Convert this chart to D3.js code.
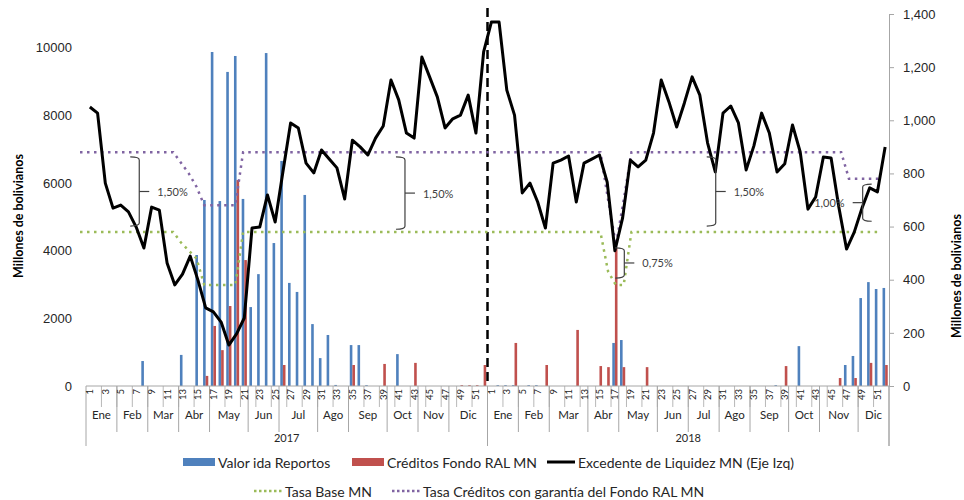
<!DOCTYPE html>
<html>
<head>
<meta charset="utf-8">
<script src="https://cdn.jsdelivr.net/npm/d3@7"></script>
<style>
  body { margin: 0; background: #fff; }
  svg { display: block; font-family: Lato, "Open Sans", "Liberation Sans", sans-serif; }
</style>
</head>
<body>
<svg id="chart" width="964" height="500"></svg>
<script>
// ---- Category axis labels ----
const years = ["2017", "2018"];
const monthNames = ["Ene", "Feb", "Mar", "Abr", "May", "Jun", "Jul", "Ago", "Sep", "Oct", "Nov", "Dic"];
const monthWeeks2017 = [4, 4, 4, 4, 5, 4, 5, 4, 5, 4, 4, 5];
const monthWeeks2018 = [4, 4, 5, 4, 5, 4, 4, 4, 5, 4, 5, 4];
const weekLabels = [1, 2, 3, 4, 5, 6, 7, 8, 9, 10, 11, 12, 13, 14, 15, 16, 17, 18, 19, 20,
  21, 22, 23, 24, 25, 26, 27, 28, 29, 30, 31, 32, 33, 34, 35, 36, 37, 38, 39, 40,
  41, 42, 43, 44, 45, 46, 47, 48, 49, 50, 51, 52];

// ---- Excedente de Liquidez MN (millones de Bs, eje izquierdo) ----
const excedente2017 = [8250, 8070, 6000, 5260, 5350, 5150, 4700, 4080, 5290, 5200,
  3640, 2990, 3310, 3840, 3130, 2310, 2190, 1890, 1210, 1540,
  2010, 4670, 4700, 5650, 4850, 6330, 7780, 7630, 6590, 6300,
  6980, 6710, 6450, 5530, 7270, 7070, 6830, 7330, 7690, 9050,
  8460, 7480, 7330, 9730, 9140, 8550, 7630, 7900, 8010, 8600,
  7480, 9880];
const excedente2018 = [10760, 10760, 8750, 8010, 5710, 6000, 5440, 4670, 6590, 6680,
  6800, 5440, 6590, 6710, 6830, 6030, 4000, 4970, 6680, 6480,
  6680, 7480, 9050, 8400, 7660, 8370, 9140, 8600, 7190, 6330,
  8070, 8280, 7780, 6390, 7100, 8070, 7480, 6330, 6570, 7720,
  6920, 5230, 5590, 6770, 6740, 5290, 4050, 4550, 5260, 5860,
  5740, 7070];

// ---- Valor ida Reportos (eje derecho) ----
const reportos2017 = [0, 0, 0, 0, 0, 0, 0, 94, 0, 0,
  0, 0, 117, 0, 493, 700, 1257, 696, 1182, 1242,
  704, 297, 421, 1253, 538, 847, 388, 354, 719, 233,
  105, 192, 4, 0, 154, 154, 3, 0, 0, 0,
  120, 0, 0, 0, 0, 0, 0, 0, 0, 0,
  0, 0];
const reportos2018 = [0, 3, 3, 3, 0, 3, 3, 0, 0, 0,
  0, 0, 0, 0, 0, 0, 162, 173, 0, 0,
  0, 0, 0, 0, 0, 0, 0, 0, 0, 0,
  0, 0, 0, 0, 0, 0, 0, 3, 0, 0,
  150, 0, 0, 0, 0, 0, 79, 113, 331, 391,
  365, 369];

// ---- Créditos Fondo RAL MN (eje derecho) ----
const creditos2017 = [0, 0, 0, 0, 0, 0, 0, 0, 0, 0,
  0, 0, 0, 0, 0, 38, 226, 135, 301, 775,
  474, 0, 0, 0, 0, 79, 0, 0, 0, 0,
  0, 0, 0, 0, 79, 0, 0, 0, 83, 0,
  0, 0, 87, 0, 0, 0, 0, 0, 3, 3,
  3, 79];
const creditos2018 = [0, 0, 0, 162, 0, 0, 0, 79, 0, 0,
  0, 211, 0, 0, 75, 71, 520, 71, 0, 0,
  71, 0, 0, 0, 0, 0, 0, 0, 0, 0,
  0, 0, 0, 0, 0, 0, 0, 0, 75, 0,
  0, 0, 0, 0, 0, 30, 0, 30, 0, 87,
  0, 79];

// ---- Tasas (%) ----
const tasaBase2017 = [2.9, 2.9, 2.9, 2.9, 2.9, 2.9, 2.9, 2.9, 2.9, 2.9,
  2.9, 2.9, 2.9, 2.7, 2.55, 2.4, 1.9, 1.9, 1.9, 1.9,
  1.9, 2.9, 2.9, 2.9, 2.9, 2.9, 2.9, 2.9, 2.9, 2.9,
  2.9, 2.9, 2.9, 2.9, 2.9, 2.9, 2.9, 2.9, 2.9, 2.9,
  2.9, 2.9, 2.9, 2.9, 2.9, 2.9, 2.9, 2.9, 2.9, 2.9,
  2.9, 2.9];
const tasaBase2018 = [2.9, 2.9, 2.9, 2.9, 2.9, 2.9, 2.9, 2.9, 2.9, 2.9,
  2.9, 2.9, 2.9, 2.9, 2.9, 2.9, 2.15, 1.9, 1.9, 2.9,
  2.9, 2.9, 2.9, 2.9, 2.9, 2.9, 2.9, 2.9, 2.9, 2.9,
  2.9, 2.9, 2.9, 2.9, 2.9, 2.9, 2.9, 2.9, 2.9, 2.9,
  2.9, 2.9, 2.9, 2.9, 2.9, 2.9, 2.9, 2.9, 2.9, 2.9,
  2.9, 2.9];
const tasaRal2017 = [4.4, 4.4, 4.4, 4.4, 4.4, 4.4, 4.4, 4.4, 4.4, 4.4,
  4.4, 4.4, 4.4, 4.2, 4.0, 3.75, 3.4, 3.4, 3.4, 3.4,
  3.4, 4.4, 4.4, 4.4, 4.4, 4.4, 4.4, 4.4, 4.4, 4.4,
  4.4, 4.4, 4.4, 4.4, 4.4, 4.4, 4.4, 4.4, 4.4, 4.4,
  4.4, 4.4, 4.4, 4.4, 4.4, 4.4, 4.4, 4.4, 4.4, 4.4,
  4.4, 4.4];
const tasaRal2018 = [4.4, 4.4, 4.4, 4.4, 4.4, 4.4, 4.4, 4.4, 4.4, 4.4,
  4.4, 4.4, 4.4, 4.4, 4.4, 4.4, 3.5, 2.65, 3.5, 4.4,
  4.4, 4.4, 4.4, 4.4, 4.4, 4.4, 4.4, 4.4, 4.4, 4.4,
  4.4, 4.4, 4.4, 4.4, 4.4, 4.4, 4.4, 4.4, 4.4, 4.4,
  4.4, 4.4, 4.4, 4.4, 4.4, 4.4, 4.4, 3.9, 3.9, 3.9,
  3.9, 3.9];

// ---- Axis ticks ----
const leftTicks = [0, 2000, 4000, 6000, 8000, 10000];
const rightTicks = [0, 200, 400, 600, 800, 1000, 1200, 1400];

// ---- Spread annotations between the two rates ----
const spreads = [
  { at: 7.63, top: 4.31, bottom: 3.01, label: "1,50%", side: "right" },
  { at: 41.84, top: 4.31, bottom: 2.95, label: "1,50%", side: "right" },
  { at: 81.85, top: 4.31, bottom: 3.01, label: "1,50%", side: "right" },
  { at: 70.08, top: 2.60, bottom: 2.03, label: "0,75%", side: "right" },
  { at: 100.77, top: 3.80, bottom: 3.10, label: "1,00%", side: "left" }
];

const excedente = excedente2017.concat(excedente2018);
const reportos = reportos2017.concat(reportos2018);
const creditos = creditos2017.concat(creditos2018);
const tasaBase = tasaBase2017.concat(tasaBase2018);
const tasaRal = tasaRal2017.concat(tasaRal2018);
const N = excedente.length;

const C = {
  blue: "#4f81bd", red: "#c0504d", green: "#9bbb59", purple: "#8064a2",
  axis: "#a6a6a6", text: "#262626"
};

const svg = d3.select("#chart");
const plot = { left: 86, right: 889, top: 14, bottom: 386 };

const x = d3.scaleBand().domain(d3.range(N)).range([plot.left, plot.right]);
const cx = i => x(i) + x.bandwidth() / 2;
// rate series sit on their own (hidden) horizontal axis
const xRate = d3.scaleLinear().domain([0, N - 1]).range([80, 880]);
const yL = d3.scaleLinear().domain([0, 11000]).range([plot.bottom, plot.top]);
const yR = d3.scaleLinear().domain([0, 1400]).range([plot.bottom, plot.top]);
const yRate = d3.scaleLinear().domain([0, 7]).range([plot.bottom, plot.top]);

const bw = 2.6;

// Bars
svg.append("g").selectAll("rect").data(reportos).join("rect")
  .attr("x", (d, i) => cx(i) - bw).attr("y", d => yR(d))
  .attr("width", bw).attr("height", d => yR(0) - yR(d))
  .attr("fill", C.blue);
svg.append("g").selectAll("rect").data(creditos).join("rect")
  .attr("x", (d, i) => cx(i)).attr("y", d => yR(d))
  .attr("width", bw).attr("height", d => yR(0) - yR(d))
  .attr("fill", C.red);

// Category axis baseline and multi-level separators
const axisG = svg.append("g");
axisG.append("line")
  .attr("x1", plot.left).attr("x2", plot.right)
  .attr("y1", plot.bottom).attr("y2", plot.bottom)
  .attr("stroke", C.axis).attr("stroke-width", 1);

const yearStart = yi => yi * 52;
const monthBounds = [];
[monthWeeks2017, monthWeeks2018].forEach((mw, yi) => {
  let acc = 0;
  mw.forEach((n, mi) => {
    monthBounds.push({ yi, mi, start: yearStart(yi) + acc, end: yearStart(yi) + acc + n });
    acc += n;
  });
});
const boundX = k => (k >= N ? plot.right : x(k));

// week ticks (every second week)
const weekTickIdx = [];
years.forEach((y, yi) => {
  weekLabels.forEach(w => { if (w % 2 === 0 && w < 52) weekTickIdx.push(yearStart(yi) + w); });
});
axisG.selectAll(".wt").data(weekTickIdx).join("line")
  .attr("x1", k => boundX(k)).attr("x2", k => boundX(k))
  .attr("y1", plot.bottom).attr("y2", plot.bottom + 21)
  .attr("stroke", C.axis).attr("stroke-width", 0.8);
// month separators
axisG.selectAll(".mt").data(monthBounds.filter(m => m.end % 52 !== 0)).join("line")
  .attr("x1", m => boundX(m.end)).attr("x2", m => boundX(m.end))
  .attr("y1", plot.bottom).attr("y2", plot.bottom + 46)
  .attr("stroke", C.axis).attr("stroke-width", 1);
// year separators
axisG.selectAll(".yt").data([0, 52, 104]).join("line")
  .attr("x1", k => boundX(k)).attr("x2", k => boundX(k))
  .attr("y1", plot.bottom).attr("y2", plot.bottom + 60)
  .attr("stroke", C.axis).attr("stroke-width", 1);

// week labels
const weekLab = [];
years.forEach((y, yi) => weekLabels.forEach(w => { if (w % 2 === 1) weekLab.push({ i: yearStart(yi) + w - 1, w }); }));
axisG.selectAll(".wl").data(weekLab).join("text")
  .attr("transform", d => `translate(${cx(d.i)},${plot.bottom + 3}) rotate(-90)`)
  .attr("text-anchor", "end").attr("dominant-baseline", "central")
  .attr("font-size", 9.5).attr("fill", C.text)
  .text(d => d.w);
// month labels
axisG.selectAll(".ml").data(monthBounds).join("text")
  .attr("x", m => (boundX(m.start) + boundX(m.end)) / 2)
  .attr("y", plot.bottom + 33)
  .attr("text-anchor", "middle").attr("font-size", 11.5).attr("fill", C.text)
  .text(m => monthNames[m.mi]);
// year labels
axisG.selectAll(".yl").data(years).join("text")
  .attr("x", (y, yi) => (boundX(yearStart(yi)) + boundX(yearStart(yi) + 52)) / 2)
  .attr("y", plot.bottom + 56)
  .attr("text-anchor", "middle").attr("font-size", 11).attr("fill", C.text)
  .text(y => y);

// Left axis (labels only)
const gl = svg.append("g").attr("transform", `translate(${plot.left},0)`)
  .call(d3.axisLeft(yL).tickValues(leftTicks).tickFormat(d3.format("d")).tickSize(0).tickPadding(14));
gl.select(".domain").remove();
gl.selectAll("text").attr("font-size", 13).attr("fill", C.text).attr("font-family", null);

// Right axis
const gr = svg.append("g").attr("transform", `translate(${plot.right},0)`)
  .call(d3.axisRight(yR).tickValues(rightTicks).tickFormat(d3.format(",")).tickSize(5).tickSizeOuter(0).tickPadding(9));
gr.select(".domain").attr("stroke", C.axis);
gr.selectAll(".tick line").attr("stroke", C.axis);
gr.selectAll("text").attr("font-size", 13).attr("fill", C.text).attr("font-family", null);
svg.append("line")
  .attr("x1", plot.right).attr("x2", plot.right)
  .attr("y1", plot.bottom).attr("y2", plot.bottom + 60)
  .attr("stroke", C.axis);

// Axis titles
svg.append("text")
  .attr("transform", `translate(18,216) rotate(-90)`)
  .attr("text-anchor", "middle").attr("dominant-baseline", "central")
  .attr("font-size", 12.5).attr("font-weight", 700).attr("fill", "#000")
  .text("Millones de bolivianos");
svg.append("text")
  .attr("transform", `translate(956,276) rotate(-90)`)
  .attr("text-anchor", "middle").attr("dominant-baseline", "central")
  .attr("font-size", 12.5).attr("font-weight", 700).attr("fill", "#000")
  .text("Millones de bolivianos");

// Year divider
svg.append("line")
  .attr("x1", x(52)).attr("x2", x(52))
  .attr("y1", 8).attr("y2", plot.bottom)
  .attr("stroke", "#000").attr("stroke-width", 2.5).attr("stroke-dasharray", "9,5");

// Rate lines
const rateLine = d3.line().x((d, i) => xRate(i)).y(d => yRate(d));
svg.append("path").datum(tasaBase).attr("d", rateLine)
  .attr("fill", "none").attr("stroke", C.green).attr("stroke-width", 2.5)
  .attr("stroke-dasharray", "2.5,4.5");
svg.append("path").datum(tasaRal).attr("d", rateLine)
  .attr("fill", "none").attr("stroke", C.purple).attr("stroke-width", 2.5)
  .attr("stroke-dasharray", "2.5,4.5");

// Excess liquidity line
svg.append("path").datum(excedente)
  .attr("d", d3.line().x((d, i) => cx(i)).y(d => yL(d)))
  .attr("fill", "none").attr("stroke", "#000").attr("stroke-width", 3)
  .attr("stroke-linejoin", "round");

// Spread braces
const braceG = svg.append("g");
spreads.forEach(s => {
  const bx = xRate(s.at);
  const y0 = yRate(s.top), y1 = yRate(s.bottom), ym = (y0 + y1) / 2;
  const dir = s.side === "right" ? 1 : -1;
  const hook = 9 * dir, r = 3;
  const p = d3.path();
  p.moveTo(bx - hook, y0);
  p.quadraticCurveTo(bx, y0, bx, y0 + r);
  p.lineTo(bx, y1 - r);
  p.quadraticCurveTo(bx, y1, bx - hook, y1);
  braceG.append("path").attr("d", p.toString())
    .attr("fill", "none").attr("stroke", "#404040").attr("stroke-width", 1.2);
  braceG.append("line")
    .attr("x1", bx).attr("x2", bx + 10 * dir)
    .attr("y1", ym).attr("y2", ym)
    .attr("stroke", "#404040").attr("stroke-width", 1.2);
  braceG.append("text")
    .attr("x", bx + 18 * dir).attr("y", ym)
    .attr("text-anchor", dir > 0 ? "start" : "end")
    .attr("dominant-baseline", "central")
    .attr("font-size", 11).attr("fill", "#404040")
    .text(s.label);
});

// Legend
const lg = svg.append("g").attr("font-size", 14).attr("fill", C.text);
const row1 = 462, row2 = 491;
function legendRect(x0, color, label) {
  lg.append("rect").attr("x", x0).attr("y", row1 - 4).attr("width", 32).attr("height", 8).attr("fill", color);
  lg.append("text").attr("x", x0 + 35).attr("y", row1).attr("dominant-baseline", "central").text(label);
}
function legendLine(x0, y, len, color, dash, width, label) {
  lg.append("line").attr("x1", x0).attr("x2", x0 + len).attr("y1", y).attr("y2", y)
    .attr("stroke", color).attr("stroke-width", width).attr("stroke-dasharray", dash);
  lg.append("text").attr("x", x0 + len + 3).attr("y", y).attr("dominant-baseline", "central").text(label);
}
legendRect(183, C.blue, "Valor ida Reportos");
legendRect(352, C.red, "Créditos Fondo RAL MN");
legendLine(547, row1, 28, "#000", null, 3, "Excedente de Liquidez MN (Eje Izq)");
legendLine(254, row2, 28, C.green, "2.5,2.5", 2.5, "Tasa Base MN");
legendLine(392, row2, 28, C.purple, "2.5,2.5", 2.5, "Tasa Créditos con garantía del Fondo RAL MN");
</script>
</body>
</html>
